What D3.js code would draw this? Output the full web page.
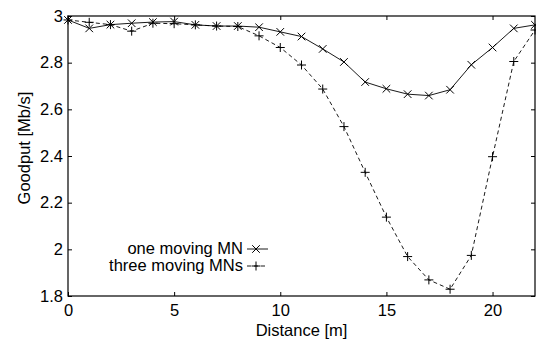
<!DOCTYPE html>
<html>
<head>
<meta charset="utf-8">
<script src="https://cdn.jsdelivr.net/npm/d3@7"></script>
<style>
  body { margin: 0; background: #fff; }
  text { font-family: "Liberation Sans", Arial, sans-serif; }
</style>
</head>
<body>
<script>
// data
const distance = [0, 1, 2, 3, 4, 5, 6, 7, 8, 9, 10, 11, 12, 13, 14, 15, 16, 17, 18, 19, 20, 21, 22];
const oneMoving = [2.983, 2.947, 2.963, 2.969, 2.974, 2.976, 2.962, 2.957, 2.957, 2.952, 2.932, 2.912,
    2.859, 2.803, 2.717, 2.688, 2.665, 2.659, 2.684, 2.791, 2.865, 2.947, 2.962];
const threeMoving = [2.983, 2.973, 2.963, 2.935, 2.969, 2.967, 2.962, 2.957, 2.955, 2.915, 2.865, 2.79,
    2.687, 2.526, 2.33, 2.138, 1.969, 1.869, 1.829, 1.974, 2.397, 2.805, 2.94];
const xTicks = [0, 5, 10, 15, 20];
const yTicks = [1.8, 2, 2.2, 2.4, 2.6, 2.8, 3];
const seriesNames = ["one moving MN", "three moving MNs"];

const width = 536, height = 341;
const margin = { top: 16, right: 1, bottom: 45, left: 68 };
const fontSize = 16.5;

const svg = d3.select("body").append("svg")
    .attr("width", width)
    .attr("height", height);

const x = d3.scaleLinear().domain([0, 22]).range([margin.left, width - margin.right]);
const y = d3.scaleLinear().domain([1.8, 3]).range([height - margin.bottom, margin.top]);

const fmt = d => d3.format("~g")(d);

// axes with inward ticks
const tickLen = 4;
svg.append("g")
    .attr("transform", `translate(0,${y(1.8)})`)
    .call(d3.axisBottom(x).tickValues(xTicks).tickFormat(fmt).tickSizeInner(-tickLen).tickSizeOuter(0).tickPadding(8))
    .call(g => g.select(".domain").remove());
svg.append("g")
    .attr("transform", `translate(0,${y(3)})`)
    .call(d3.axisTop(x).tickValues(xTicks).tickFormat("").tickSizeInner(-tickLen).tickSizeOuter(0))
    .call(g => g.select(".domain").remove());
svg.append("g")
    .attr("transform", `translate(${x(0)},0)`)
    .call(d3.axisLeft(y).tickValues(yTicks).tickFormat(fmt).tickSizeInner(-tickLen).tickSizeOuter(0).tickPadding(5))
    .call(g => g.select(".domain").remove());
svg.append("g")
    .attr("transform", `translate(${x(22)},0)`)
    .call(d3.axisRight(y).tickValues(yTicks).tickFormat("").tickSizeInner(-tickLen).tickSizeOuter(0))
    .call(g => g.select(".domain").remove());

svg.selectAll(".tick text").attr("font-size", fontSize).attr("fill", "#000");
svg.selectAll(".tick line").attr("stroke", "#000");

// frame
svg.append("rect")
    .attr("x", x(0)).attr("y", y(3))
    .attr("width", x(22) - x(0)).attr("height", y(1.8) - y(3))
    .attr("fill", "none").attr("stroke", "#000").attr("stroke-width", 1.2);

const line = d3.line().x((d, i) => x(distance[i])).y(d => y(d));

function crossPath(cx, cy, s) {
    return `M${cx - s},${cy - s}L${cx + s},${cy + s}M${cx - s},${cy + s}L${cx + s},${cy - s}`;
}
function plusPath(cx, cy, s) {
    return `M${cx - s},${cy}L${cx + s},${cy}M${cx},${cy - s}L${cx},${cy + s}`;
}

// three moving MNs (dashed, plus markers)
svg.append("path")
    .datum(threeMoving)
    .attr("d", line)
    .attr("fill", "none").attr("stroke", "#000").attr("stroke-width", 0.9)
    .attr("stroke-dasharray", "4,3");
svg.append("g").selectAll("path")
    .data(threeMoving)
    .join("path")
    .attr("d", (d, i) => plusPath(x(distance[i]), y(d), 4.5))
    .attr("stroke", "#000").attr("stroke-width", 1);

// one moving MN (solid, cross markers)
svg.append("path")
    .datum(oneMoving)
    .attr("d", line)
    .attr("fill", "none").attr("stroke", "#000").attr("stroke-width", 0.9);
svg.append("g").selectAll("path")
    .data(oneMoving)
    .join("path")
    .attr("d", (d, i) => crossPath(x(distance[i]), y(d), 3.8))
    .attr("stroke", "#000").attr("stroke-width", 1);

// axis labels
svg.append("text")
    .attr("x", (x(0) + x(22)) / 2).attr("y", 336)
    .attr("text-anchor", "middle").attr("font-size", fontSize)
    .text("Distance [m]");
svg.append("text")
    .attr("transform", `translate(30,${(y(1.8) + y(3)) / 2 - 8}) rotate(-90)`)
    .attr("text-anchor", "middle").attr("font-size", fontSize)
    .text("Goodput [Mb/s]");

// legend
const legend = svg.append("g");
const legY = [249, 266];
seriesNames.forEach((name, i) => {
    legend.append("text")
        .attr("x", 243).attr("y", legY[i] + 5)
        .attr("text-anchor", "end").attr("font-size", fontSize)
        .text(name);
    legend.append("line")
        .attr("x1", 247).attr("x2", 268)
        .attr("y1", legY[i]).attr("y2", legY[i])
        .attr("stroke", "#000").attr("stroke-width", 0.9)
        .attr("stroke-dasharray", i === 1 ? "4,3" : null);
    legend.append("path")
        .attr("d", i === 0 ? crossPath(256, legY[i], 3.8) : plusPath(256, legY[i], 4.5))
        .attr("stroke", "#000").attr("stroke-width", 1);
});
</script>
</body>
</html>
